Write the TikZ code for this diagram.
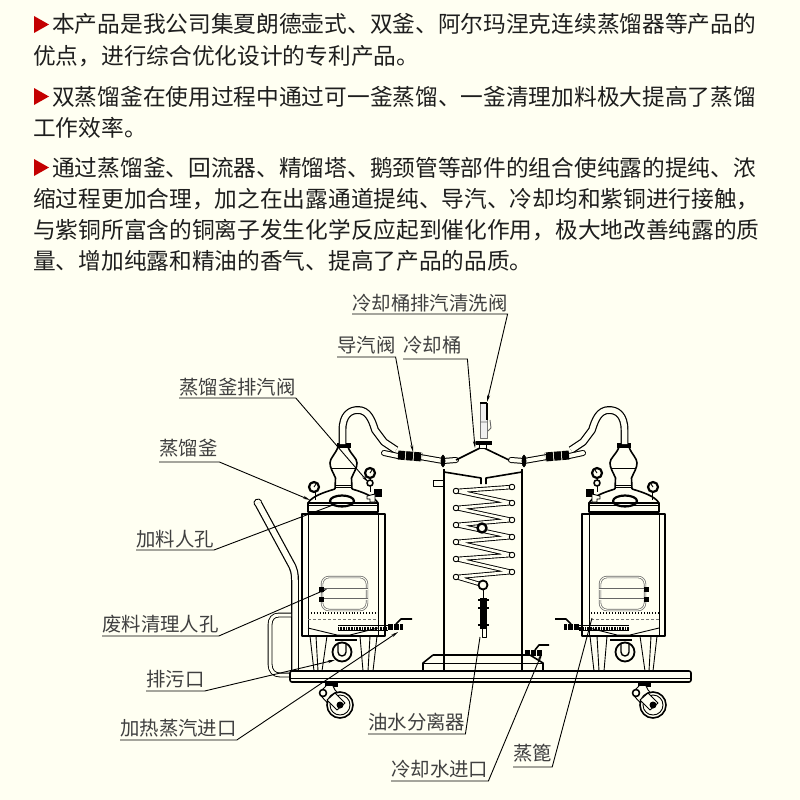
\documentclass[tikz,border=0pt]{standalone}
\usepackage{fontspec}
\setmainfont{Noto Sans CJK SC}
\usetikzlibrary{arrows.meta,positioning,calc}
\definecolor{paper}{HTML}{FFFFF2}
\definecolor{redmark}{HTML}{C40000}
\definecolor{ink}{HTML}{1E1E1E}

\begin{document}
\begin{tikzpicture}[
  x=1pt, y=-1pt,
  para/.style={anchor=base west, inner sep=0pt, text=ink, font=\fontsize{22.7}{24}\selectfont},
  tag/.style={anchor=south west, inner xsep=0pt, inner ysep=1.5pt, text=black!75, font=\fontsize{19.4}{20}\selectfont},
  leader/.style={-{Stealth[length=7pt,width=3pt]}, line width=0.9pt, black},
  part/.style={draw=black, line width=0.9pt, line join=round},
  heavy/.style={draw=black, line width=1.6pt, line join=round},
  pipe/.style={draw=black, line width=1pt, double=paper, double distance=4pt, line cap=round, line join=round},
  coil/.style={draw=black, line width=0.9pt, double=paper, double distance=2.6pt, line cap=round, line join=round},
  rail/.style={draw=black, line width=1.2pt, double=paper, double distance=5.5pt, line join=round},
  clamp/.style={fill=black, draw=black, line width=0.6pt},
  kettle/.pic={
    % body
    \draw[heavy] (302,636) -- (302,514) -- (385,514) -- (385,636) -- cycle;
    \draw[part] (308,636) -- (308,514) (378,514) -- (378,636);
    \draw[part] (308,628) -- (337,635) -- (350,635) -- (378,628);
    \draw[part, dotted, line width=1.2pt] (308,613) -- (378,613);
    \draw[part, black!55, densely dashed] (308,619) -- (378,619);
    % dome and neck
    \draw[heavy] (308,503) rectangle (378,512);
    \draw[part] (308,505) -- (378,505);
    \draw[heavy] (308,503) .. controls (312,496) and (325,492) .. (335,489);
    \draw[heavy] (378,503) .. controls (374,496) and (362,492) .. (352,489);
    \draw[heavy] (335,489) -- (335.5,478) .. controls (333,472) and (330,468) .. (330,463) .. controls (330,458) and (335,455) .. (338,447);
    \draw[heavy] (352,489) -- (351.5,478) .. controls (354,472) and (357,468) .. (357,463) .. controls (357,458) and (351,455) .. (348,447);
    \draw[part] (331,468) -- (356,468) (335,485) -- (352,485) (335,487) -- (352,487);
    \draw[clamp] (337,443) rectangle (350,447);
    \draw[heavy, line width=2.2pt] (342,501) ellipse (12pt and 5.5pt);
    % gauges
    \draw[part] (315,492) -- (315,500);
    \draw[heavy, fill=paper, line width=2.2pt] (314,487) circle (5pt);
    \draw[part] (314,487) -- (316,484);
    \draw[part] (370,478) -- (370,492);
    \draw[heavy, fill=paper, line width=2.2pt] (370,473) circle (5pt);
    \draw[part] (370,473) -- (372,470);
    \draw[heavy, fill=paper] (370,483) circle (3pt);
    \draw[clamp] (374,489) rectangle (381,496);
    \draw[part, fill=paper] (367,496) -- (375,494) -- (375,502) -- (370,502) -- (370,499) -- (367,499) -- cycle;
    % gooseneck and valve
    \draw[rail] (342.5,444) -- (342.5,430) .. controls (342.5,415) and (350,410) .. (358,410) .. controls (368,410) and (372,420) .. (375,430) -- (384,442) -- (396,450);
    \draw[pipe] (384,453) -- (398,456);
    \draw[pipe] (420,457) -- (443,461) -- (456,460);
    \draw[black, line width=9pt, dash pattern=on 7pt off 1pt] (398,455) -- (422,457);
    \draw[clamp] (443,461) ellipse (2pt and 6pt);
    % window
    \draw[part, black!60, double=paper, double distance=1pt, line width=0.7pt, rounded corners=7pt] (322,577) rectangle (367,610);
    \draw[part, black!60, double=paper, double distance=1pt, line width=0.8pt] (322,589) -- (368,589) (322,599) -- (368,599);
    \draw[clamp] (319,587) rectangle (323,591) (319,597) rectangle (323,601);
    % legs, drain
    \draw[part] (310,636) -- (314,671) -- (322,671) -- (327,636);
    \draw[part] (360,636) -- (363,671) -- (373,671) -- (377,636);
    \draw[part] (316,636) -- (318,671) (368,671) -- (370,636);
    \draw[heavy] (335,640) -- (357,640);
    \draw[heavy, fill=paper, line width=1.8pt] (342,652) circle (9.5pt);
    \draw[part, line width=1.4pt] (338,643) -- (338,652) arc[start angle=180, end angle=360, radius=4pt] -- (346,643);
    % steam inlet
    \draw[part, line width=3pt, dash pattern=on 0.8pt off 0.8pt] (338,628) -- (388,628);
    \draw[part] (338,625.5) -- (388,625.5) (338,630.5) -- (388,630.5);
    \draw[black, line width=6pt, dash pattern=on 5pt off 1pt] (388,627) -- (403,627);
    \draw[heavy] (396,624) -- (401,619) -- (412,619);
  },
  caster/.pic={
    \draw[clamp] (-15,-23) rectangle (-3,-19);
    \draw[part, fill=paper] (-14,-19) -- (-20,-13) -- (-18,-8) -- (-6,5) -- (5,-4) -- (-5,-15) -- (-7,-19);
    \draw[heavy, fill=paper] (-17,-12) circle (3.5pt);
    \draw[heavy, fill=paper] (0,0) circle (13pt);
    \draw[part] (0,0) circle (10pt);
    \draw[part, fill=paper] (-13,-5) -- (-3,5) -- (5,-2) -- (-5,-12) -- cycle;
    \fill[black] (0,0) circle (3.5pt);
  },
]
  \useasboundingbox (0,0) rectangle (800,800);
  \fill[paper] (0,0) rectangle (800,800);

  % Text
  \fill[redmark] (34,16) -- (49,24.5) -- (34,33) -- cycle;
  \fill[redmark] (34,88) -- (49,96.5) -- (34,105) -- cycle;
  \fill[redmark] (34,159) -- (49,167.5) -- (34,176) -- cycle;
  \node[para] (p1a) at (52,33) {本产品是我公司集夏朗德壶式、双釜、阿尔玛涅克连续蒸馏器等产品的};
  \node[para] (p1b) at (33,64) {优点，进行综合优化设计的专利产品。};
  \node[para] (p2a) at (52,105) {双蒸馏釜在使用过程中通过可一釜蒸馏、一釜清理加料极大提高了蒸馏};
  \node[para] (p2b) at (33,136) {工作效率。};
  \node[para] (p3a) at (52,176) {通过蒸馏釜、回流器、精馏塔、鹅颈管等部件的组合使纯露的提纯、浓};
  \node[para] (p3b) at (33,207) {缩过程更加合理，加之在出露通道提纯、导汽、冷却均和紫铜进行接触，};
  \node[para] (p3c) at (33,238) {与紫铜所富含的铜离子发生化学反应起到催化作用，极大地改善纯露的质};
  \node[para] (p3d) at (33,269) {量、增加纯露和精油的香气、提高了产品的品质。};

  % Cart
  \draw[rail] (258,503) -- (290,562) .. controls (294,568) and (295,574) .. (295,580) -- (295,671);
  \draw[part, fill=paper] (254.5,505) arc[start angle=210, end angle=30, radius=4pt];
  \draw[part, double=paper, double distance=3pt] (291,615) -- (279,615) .. controls (273,615) and (270,619) .. (270,625) -- (270,664) .. controls (270,671) and (274,675) .. (280,675) -- (291,675);
  \draw[heavy, fill=paper, rounded corners=2pt] (290,671) rectangle (691,682);
  \draw[part] (290,678) -- (691,678);
  \pic at (340,705) {caster};
  \pic at (653,705) {caster};

  % Kettles
  \pic {kettle};
  \begin{scope}[xshift=967pt, xscale=-1]
    \pic[transform shape] {kettle};
  \end{scope}

  % Condenser
  \draw[heavy] (444,469) -- (444,671) (522,469) -- (522,671);
  \draw[heavy] (456,460) -- (482,447) -- (509,460);
  \draw[heavy] (444,472) -- (481,478) -- (481,484) (522,472) -- (486,478) -- (486,484);
  \draw[part] (444,480) -- (433,480) -- (433,486) -- (444,486);
  \draw[coil] (512,487) -- (456,491) -- (512,503) -- (456,508) -- (512,520) -- (456,525) -- (512,537) -- (456,542) -- (512,555) -- (456,559) -- (512,572) -- (456,577) -- (483,585);
  \draw[part, fill=paper] (512,487) circle (2.8pt) (456,491) circle (2.8pt) (512,503) circle (2.8pt) (456,508) circle (2.8pt) (512,520) circle (2.8pt) (456,525) circle (2.8pt) (512,537) circle (2.8pt) (456,542) circle (2.8pt) (512,555) circle (2.8pt) (456,559) circle (2.8pt) (512,572) circle (2.8pt) (456,577) circle (2.8pt);
  \draw[heavy, fill=paper, line width=2.4pt] (482,528) circle (4.5pt);
  \draw[clamp] (476,441) rectangle (491,444);
  \draw[part, fill=paper] (479,444) rectangle (486,448);
  \draw[part, black!55, fill=black!6] (480,403) rectangle (487,438);
  \draw[part, black!60] (480,422) -- (487,422) (490,420) -- (491,428) -- (488,431);
  \draw[heavy] (480,403) -- (487,403) (487,403) -- (487,420);

  % Separator and base
  \draw[heavy, fill=paper, line width=1.8pt] (483,585) circle (4.5pt);
  \draw[part] (483,590) -- (483,598);
  \draw[clamp] (480,598) rectangle (486,628);
  \draw[heavy] (478,600) -- (489,600) (478,608) -- (489,608) (478,625) -- (489,625);
  \draw[part, fill=paper] (482,628) rectangle (486,637);
  \draw[heavy] (433,655) -- (525,655) (433,655) -- (423,663) -- (423,671) (530,655) -- (543,663) -- (543,671);
  \draw[part] (423,663) -- (543,663);
  \draw[black, line width=6pt, dash pattern=on 5pt off 1pt] (525,653) -- (542,653);
  \draw[heavy] (535,650) -- (539,645) -- (549,645);

  % Labels
  \node[tag] (ventvalve) at (352,314) {冷却桶排汽清洗阀};
  \node[tag, inner ysep=3pt] (steamvalve) at (337,357) {导汽阀};
  \node[tag, text width=64pt, inner ysep=5pt] (condenser) at (403,359) {冷却桶};
  \node[tag] (stillvent) at (179,398) {蒸馏釜排汽阀};
  \node[tag, text width=60pt, inner ysep=5pt] (still) at (159,462) {蒸馏釜};
  \node[tag] (feedhole) at (136,550) {加料人孔};
  \node[tag, inner ysep=3pt] (wastehole) at (102,636) {废料清理人孔};
  \node[tag, inner ysep=2.5pt] (drain) at (146,691) {排污口};
  \node[tag, inner ysep=3pt] (steamin) at (120,740) {加热蒸汽进口};
  \node[tag, inner ysep=3pt] (separator) at (368,734) {油水分离器};
  \node[tag, inner ysep=2.5pt] (waterin) at (391,781) {冷却水进口};
  \node[tag, inner ysep=5pt] (basket) at (513,767) {蒸篦};

  % Leaders
  \coordinate (ventend) at (487,402);
  \coordinate (steamend) at (413,452);
  \coordinate (condend) at (475,448);
  \coordinate (stillvend) at (368,482);
  \coordinate (stillend) at (310,500);
  \coordinate (feedend) at (333,505);
  \coordinate (wasteend) at (327,589);
  \coordinate (drainend) at (335,660);
  \coordinate (steaminend) at (398,632);
  \coordinate (sepend) at (480,637);
  \coordinate (waterend) at (542,653);
  \coordinate (basketend) at (592,618);
  \draw[leader] (ventvalve.south west) -- (ventvalve.south east) -- (ventend);
  \draw[leader] (steamvalve.south west) -- (steamvalve.south east) -- (steamend);
  \draw[leader] (condenser.south west) -- (condenser.south east) -- (condend);
  \draw[leader] (stillvent.south west) -- (stillvent.south east) -- (stillvend);
  \draw[leader] (still.south west) -- (still.south east) -- (stillend);
  \draw[leader, -] (feedhole.south west) -- (feedhole.south east) -- (feedend);
  \draw[leader] (wastehole.south west) -- (wastehole.south east) -- (wasteend);
  \draw[leader] (drain.south west) -- (drain.south east) -- (drainend);
  \draw[leader] (steamin.south west) -- (steamin.south east) -- (steaminend);
  \draw[leader, -] (separator.south west) -- (separator.south east) -- (sepend);
  \draw[leader] (waterin.south west) -- (waterin.south east) -- (waterend);
  \draw[leader, -] (basket.south west) -- (basket.south east) -- (basketend);
\end{tikzpicture}
\end{document}
